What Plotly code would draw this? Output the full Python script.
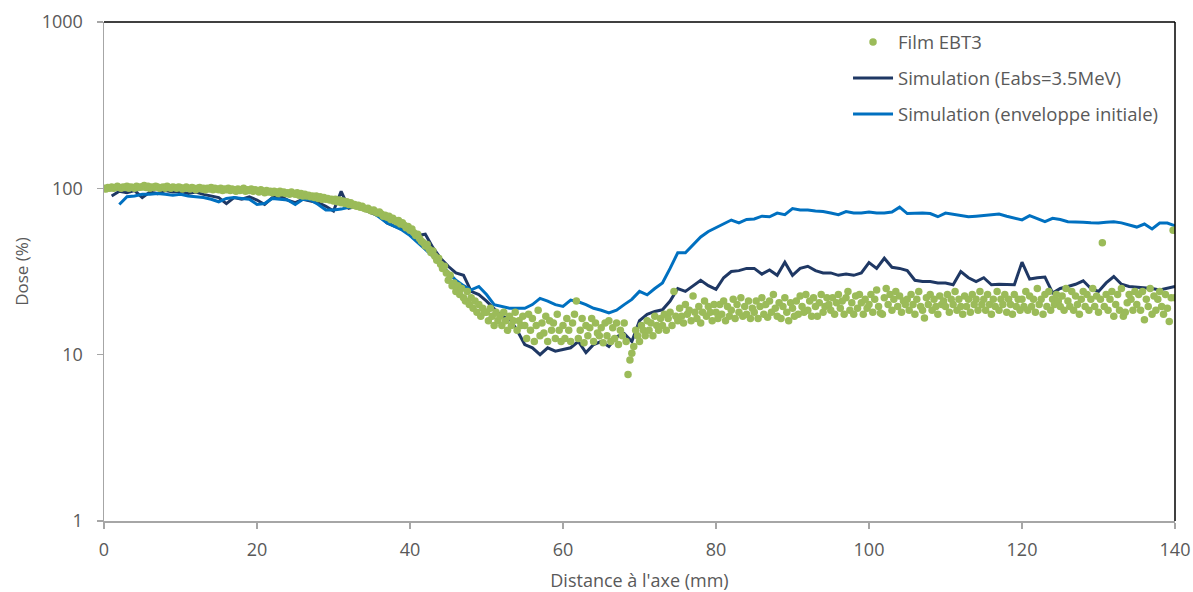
import plotly.graph_objects as go

# ---------------- data ----------------
# Film EBT3 measurements, sampled every 0.25 mm from 0 to 140 mm
film_step_mm = 0.25
film_dose = [
    # 0-5
    100, 99, 101, 100, 102, 100, 101, 103, 101, 100, 102, 101, 103, 100, 102, 101, 100, 103, 101, 102,
    # 5-10
    102, 104, 101, 103, 100, 102, 101, 103, 102, 100, 101, 102, 100, 103, 101, 100, 102, 101, 100, 102,
    # 10-15
    101, 99, 100, 102, 100, 99, 101, 100, 98, 100, 101, 99, 100, 98, 100, 99, 101, 98, 100, 99,
    # 15-20
    98, 100, 97, 99, 98, 100, 97, 99, 98, 96, 99, 97, 98, 100, 96, 98, 97, 99, 96, 98,
    # 20-25
    97, 95, 98, 96, 94, 97, 95, 96, 94, 96, 95, 93, 96, 94, 95, 93, 94, 92, 95, 93,
    # 25-30
    92, 94, 91, 93, 90, 92, 90, 91, 89, 90, 88, 90, 87, 89, 86, 88, 86, 87, 85, 86,
    # 30-35
    84, 86, 83, 85, 82, 84, 81, 83, 80, 82, 79, 80, 78, 79, 77, 78, 76, 75, 76, 74,
    # 35-40
    73, 74, 72, 71, 72, 70, 68, 69, 67, 68, 65, 66, 64, 63, 64, 61, 62, 60, 58, 59,
    # 40-45
    56, 57, 54, 52, 53, 50, 48, 47, 45, 46, 43, 41, 42, 39, 37, 38, 35, 33, 34, 31,
    # 45-50
    28, 30, 26, 27, 24, 26, 23, 25, 22, 21, 24, 20, 22, 19, 21, 18, 20, 17, 19, 18,
    # 50-55
    18, 16, 19, 17, 15, 18, 16, 17, 15, 18, 16, 14, 17, 15, 16, 18, 14, 16, 15, 17,
    # 55-60
    15, 12.5, 17.5, 14, 16.5, 12, 15, 18.5, 13, 15.5, 13.5, 17, 12, 16, 14, 15.5, 12.5, 17.5, 14, 12,
    # 60-65
    15, 12.5, 16.5, 14, 12, 15.5, 17.5, 21, 12.5, 14, 16.5, 11.8, 15, 13, 14.5, 16.5, 12, 15.5, 13.5, 13,
    # 65-70
    14.5, 11.8, 15.5, 13, 16, 12, 14.5, 12.5, 15.5, 11.5, 14, 13, 15.5, 12, 7.6, 9.3, 10.2, 11.2, 14, 13,
    # 70-75
    12, 15, 14, 13, 16, 14, 15.5, 13, 17, 15, 14, 16.5, 15, 17.5, 14, 16.5, 18, 15, 24, 17,
    # 75-80
    16, 19, 17, 15.5, 20, 17.5, 18.5, 16, 22.5, 18, 16.5, 19.5, 15.5, 18, 21, 17, 19.5, 18, 16, 20,
    # 80-85
    18, 16.5, 20, 17.5, 21, 16, 19.5, 17, 18.5, 21.5, 16.5, 20, 18, 22, 17, 19.5, 17.5, 21, 16.5, 19,
    # 85-90
    18, 21, 16.5, 19.5, 22, 17.5, 20, 16.8, 21, 18, 23, 19, 17, 20.5, 16.5, 19.5, 22, 18, 16, 20.5,
    # 90-95
    19, 17, 21, 17.5, 22.5, 19.5, 18, 23, 18.5, 21, 17, 22, 19.5, 17, 20.5, 23, 18, 19.5, 22, 20,
    # 95-100
    18.5, 22, 17.5, 20.5, 23, 19, 21, 17.5, 22, 24, 18.5, 20.5, 17.5, 22.5, 19, 23, 20.5, 17.5, 21.5, 19,
    # 100-105
    20, 23, 18, 21.5, 24.5, 19.5, 17.8, 17.5, 22, 25, 20, 23, 18.5, 21.5, 24, 19.5, 22.5, 18, 21, 20,
    # 105-110
    21.5, 18.5, 23, 20, 17.5, 21.5, 24, 19.5, 18.5, 16.6, 22, 20, 23, 18.5, 21.5, 19.5, 17.5, 22.5, 20, 21,
    # 110-115
    19.5, 23, 18, 21.5, 20, 24, 18.5, 21.5, 19.5, 17.5, 22.5, 19.5, 21.5, 18, 23, 20, 21.5, 18.5, 24, 20,
    # 115-120
    21.5, 18.5, 23, 20, 17.5, 21.5, 19.5, 24, 18.5, 21.5, 20, 23, 18, 21.5, 20, 17.5, 23, 19.5, 21.5, 18.5,
    # 120-125
    21.5, 19.5, 24, 18.5, 22.5, 19.5, 21.5, 18, 25, 20, 21.5, 17.5, 23, 19.5, 24, 18.5, 21.5, 20, 23, 21,
    # 125-130
    19.5, 22.5, 18.5, 25, 21, 19.5, 24, 18.5, 22.5, 20, 17.5, 21.5, 24, 19.5, 23, 18.5, 21.5, 25, 19.5, 22.5,
    # 130-135
    18, 21.5, 47, 19.5, 23, 18.5, 21.5, 24, 17, 20, 23, 18.5, 25, 17, 18, 20.5, 23, 21.5, 18.5, 24,
    # 135-140
    20, 23, 18.5, 24, 16.2, 21.5, 19.5, 25, 17.5, 22.5, 18.5, 21.5, 24, 19.5, 17.5, 23, 19, 15.8, 22, 56, 22,
]
film_x = [i * film_step_mm for i in range(len(film_dose))]

# Simulation (Eabs=3.5MeV), every 1 mm from 1 to 140 mm
sim_eabs_x = list(range(1, 141))
sim_eabs_dose = [
    90, 96, 94, 97, 88, 95, 93, 97, 95, 96,
    93, 95, 92, 90, 88, 81, 88, 86, 89, 85,
    80, 88, 90, 85, 82, 86, 84, 82, 78, 73,
    96, 76, 78, 74, 71, 68, 62, 59, 57, 56,
    52, 53, 44, 38, 34, 31, 30, 24, 23, 21,
    19, 17, 16.5, 14, 11.5, 11, 10, 11, 10.5, 10.7,
    11, 12, 10.3, 11.5, 12, 11.2, 12.8, 13.4, 12, 16,
    17.5, 18.2, 18.6, 21, 25, 24, 26, 28, 26, 24.7,
    29, 31.6, 32, 33, 33, 30.5, 32.3, 30, 36, 30,
    33, 34, 32, 31, 31, 30, 30.5, 30, 31, 35.8,
    33, 38, 33.5, 33, 32, 28, 27.5, 27.5, 27, 27,
    26.3, 31.6, 29, 27.5, 29, 26.3, 26.5, 26.3, 26.3, 36,
    28.5, 29, 29.3, 23.5, 25, 25.7, 26.5, 27.8, 25, 24,
    27, 29.5, 26.5, 25.7, 25.5, 25.3, 25, 24.5, 25, 25.7,
]

# Simulation (enveloppe initiale), every 1 mm from 2 to 140 mm
sim_env_x = list(range(2, 141))
sim_env_dose = [
    80, 89, 90, 92, 92, 93, 92, 91, 92,
    90, 89, 88, 86, 83, 87, 88, 87, 86, 80,
    81, 87, 86, 85, 80, 86, 85, 80, 74, 74,
    75, 77, 78, 75, 72, 67, 62, 59, 56, 52,
    47, 43, 39, 35, 31, 28, 26, 24.5, 25.7, 23,
    20, 19.5, 19, 19, 19, 20, 21.8, 21, 20, 19.5,
    21.3, 20.8, 20, 19, 18.5, 17.8, 18.5, 20, 21.5, 24,
    22.9, 25, 27, 33, 41, 41, 46, 51, 55, 58,
    61, 64.5, 62, 65, 65.5, 68, 67.5, 71, 69.5, 75.5,
    74, 74, 73, 72.5, 71, 69.5, 72.5, 71, 71, 72,
    71, 71, 72, 77, 70.5, 71, 71, 70.5, 67.5, 71,
    70, 69, 67.5, 68, 68.5, 69, 70, 68, 66, 64.6,
    68.5, 66, 63, 66, 65, 63, 63, 62.5, 62, 61.8,
    62.5, 63, 62, 60, 58.5, 61, 57, 61.8, 61.8, 59.6,
]

x_ticks = [0, 20, 40, 60, 80, 100, 120, 140]
y_ticks = [1, 10, 100, 1000]

names = ["Film EBT3", "Simulation (Eabs=3.5MeV)", "Simulation (enveloppe initiale)"]

# ---------------- styles ----------------
GREEN = "#9BBB59"
NAVY = "#1F3864"
BLUE = "#0070C0"
TEXT = "#595959"
AXIS = "#A6A6A6"
FONT = "Open Sans"

fig = go.Figure()

fig.add_trace(go.Scatter(
    x=sim_eabs_x, y=sim_eabs_dose, mode="lines", name=names[1],
    line=dict(color=NAVY, width=3), legendrank=2, legendgroup="b",
))
fig.add_trace(go.Scatter(
    x=sim_env_x, y=sim_env_dose, mode="lines", name=names[2],
    line=dict(color=BLUE, width=3), legendrank=3, legendgroup="c",
))
fig.add_trace(go.Scatter(
    x=film_x, y=film_dose, mode="markers", name=names[0],
    marker=dict(color=GREEN, size=7.5, line=dict(width=0)),
    legendrank=1, legendgroup="a",
))

fig.update_layout(
    width=1193, height=592,
    margin=dict(l=104, r=18, t=22, b=71, autoexpand=False),
    paper_bgcolor="white", plot_bgcolor="white",
    font=dict(family=FONT, color=TEXT, size=18),
    showlegend=True,
    hovermode=False,
    legend=dict(
        x=0.6947, y=0.997, xanchor="left", yanchor="top",
        bgcolor="rgba(0,0,0,0)", borderwidth=0,
        font=dict(family=FONT, size=18.5, color=TEXT),
        traceorder="grouped", tracegroupgap=9,
        itemwidth=40,
    ),
    shapes=[
        dict(type="line", xref="paper", yref="paper", x0=0, x1=1, y0=1, y1=1,
             line=dict(color="#000000", width=1.5)),
        dict(type="line", xref="paper", yref="paper", x0=1, x1=1, y0=0, y1=1,
             line=dict(color="#000000", width=1.5)),
    ],
)

fig.update_xaxes(
    range=[0, 140], tickvals=x_ticks, ticktext=[str(v) for v in x_ticks],
    showgrid=False, zeroline=False, automargin=False,
    showline=True, linecolor=AXIS, linewidth=1.5,
    ticks="outside", ticklen=6, tickcolor=AXIS, tickwidth=1.5,
    tickfont=dict(family=FONT, size=18, color=TEXT),
    ticklabelstandoff=6,
    title=dict(text="Distance à l'axe (mm)", font=dict(family=FONT, size=18, color=TEXT), standoff=19),
)
fig.update_yaxes(
    type="log", range=[0, 3], tickvals=y_ticks, ticktext=[str(v) for v in y_ticks],
    showgrid=False, zeroline=False, automargin=False,
    showline=True, linecolor=AXIS, linewidth=1.5,
    ticks="outside", ticklen=6, tickcolor=AXIS, tickwidth=1.5,
    tickfont=dict(family=FONT, size=18, color=TEXT),
    ticklabelstandoff=10,
    title=dict(text="Dose (%)", font=dict(family=FONT, size=17, color=TEXT), standoff=9),
)

# remove the default page margin so the 1193x592 figure fills the window exactly
fig.write_html(
    "out.html",
    config={"displayModeBar": False, "staticPlot": True},
    post_script="document.body.style.margin='0';document.body.style.overflow='hidden';",
)
